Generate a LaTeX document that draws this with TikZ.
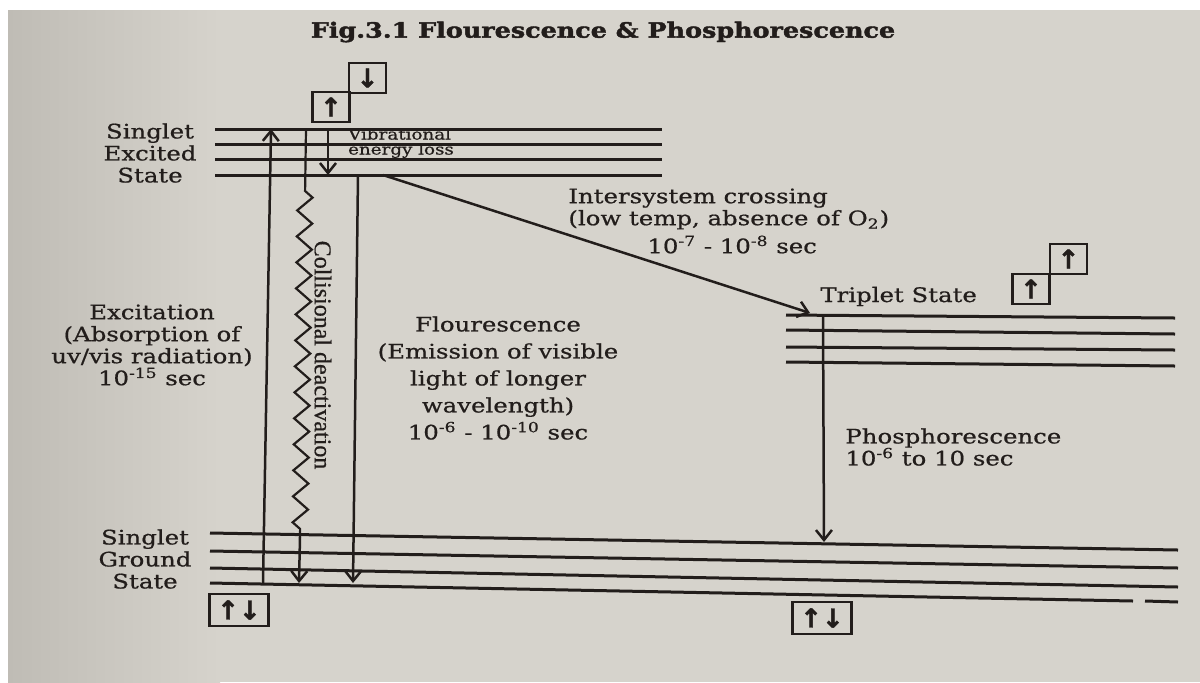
\documentclass[tikz,border=0pt]{standalone}
\usepackage{fontspec}
\setmainfont[FakeStretch=1.22, FakeBold=0.7]{DejaVu Serif}
\newfontfamily\spinfont[FakeBold=1.5]{DejaVu Sans}
\newfontfamily\narrowfont[FakeBold=0.6]{Liberation Serif}
\newfontfamily\titlefont[FakeStretch=1.21, FakeBold=2]{DejaVu Serif Bold}
\usetikzlibrary{arrows.meta,decorations.pathmorphing}
\definecolor{paper}{HTML}{D6D3CC}
\definecolor{shadow}{HTML}{BFBCB5}
\definecolor{ink}{HTML}{221D1B}

\begin{document}
\begin{tikzpicture}[
  x=0.5pt, y=-0.5pt,
  >={Straight Barb[length=5pt,width=8pt]},
  lvl/.style={draw=ink, line width=1.5pt},
  arrow/.style={->, draw=ink, line width=1.25pt},
  wavy/.style={draw=ink, line width=1.1pt, decorate, decoration={zigzag, segment length=13pt, amplitude=3.8pt, pre length=31pt}},
  lbl/.style={text=ink, align=center, inner sep=0pt, font=\fontsize{10}{11}\selectfont},
  spin/.style={draw=ink, line width=1.2pt, inner sep=0pt, minimum width=18.5pt, minimum height=15pt, text=ink, font=\spinfont\bfseries\fontsize{13}{13}\selectfont},
  pair/.style={spin, minimum width=29.5pt, minimum height=16pt},
]
\useasboundingbox (0,0) rectangle (1200,682);
\fill[white] (0,0) rectangle (1200,682);
\fill[paper] (8,10) rectangle (1200,682);
\shade[left color=shadow, right color=paper] (8,10) rectangle (220,682);

\node[lbl, font=\titlefont\fontsize{10.5}{12}\selectfont] (title) at (603,32) {Fig.3.1 Flourescence \& Phosphorescence};

% singlet excited levels
\draw[lvl] (215,129) -- (662,129);
\draw[lvl] (215,144) -- (662,144);
\draw[lvl] (215,159) -- (662,159);
\draw[lvl] (215,175) -- (662,175);

% triplet levels
\draw[lvl] (786,315) -- (1175,318);
\draw[lvl] (786,330) -- (1175,334);
\draw[lvl] (786,347) -- (1175,350);
\draw[lvl] (786,362) -- (1175,366);

% singlet ground levels
\draw[lvl] (210,533) -- (1178,550);
\draw[lvl] (210,551) -- (1178,568);
\draw[lvl] (210,568) -- (1178,587);
\draw[lvl] (210,583) -- (1133,601);
\draw[lvl] (1145,601) -- (1178,602);

\coordinate (exBot) at (263,583);
\coordinate (exTop) at (271,129);
\coordinate (cdTop) at (306,129);
\coordinate (cdKnee) at (300,537);
\coordinate (cdBot) at (299,583);
\coordinate (vbTop) at (328,129);
\coordinate (vbBot) at (328,175);
\coordinate (flTop) at (358,175);
\coordinate (flBot) at (353,583);
\coordinate (iscA) at (383,175);
\coordinate (iscB) at (810,313);
\coordinate (phTop) at (823,315);
\coordinate (phBot) at (824,542);

\draw[arrow] (exBot) -- (exTop);
\draw[wavy] (cdTop) -- (cdKnee);
\draw[arrow] (cdKnee) -- (cdBot);
\draw[arrow] (vbTop) -- (vbBot);
\draw[arrow] (flTop) -- (flBot);
\draw[arrow] (iscA) -- (iscB);
\draw[arrow] (phTop) -- (phBot);

\node[spin] (s1dn) at (367.5,78) {↓};
\node[spin] (s1up) at (331,107) {↑};
\node[spin] (t1a) at (1031,289) {↑};
\node[spin] (t1b) at (1068.5,259) {↑};
\node[pair] (s0a) at (239,610) {↑↓};
\node[pair] (s0b) at (822,618) {↑↓};

\node[lbl] (s1lbl) at (150,153) {Singlet\\Excited\\State};
\node[lbl] (s0lbl) at (145,559) {Singlet\\Ground\\State};
\node[lbl] (exlbl) at (152,345) {Excitation\\(Absorption of\\uv/vis radiation)\\10\textsuperscript{-15} sec};
\node[lbl, font=\fontsize{10}{13.5}\selectfont] (fllbl) at (498,378) {Flourescence\\(Emission of visible\\light of longer\\wavelength)\\10\textsuperscript{-6} - 10\textsuperscript{-10} sec};
\node[lbl, align=left, anchor=west] (isclbl) at (568,221) {Intersystem crossing\\(low temp, absence of O\textsubscript{2})\\[3pt]\hspace*{39.5pt}10\textsuperscript{-7} - 10\textsuperscript{-8} sec};
\node[lbl, anchor=base west] (tlbl) at (820,302) {Triplet State};
\node[lbl, align=left, anchor=west] (phlbl) at (845,447) {Phosphorescence\\10\textsuperscript{-6} to 10 sec};
\node[lbl, font=\fontsize{7.5}{7.5}\selectfont, align=left] (vblbl) at (401,143) {Vibrational\\energy loss};
\node[lbl, font=\narrowfont\fontsize{12}{12}\selectfont, rotate=-90] (cdlbl) at (323,355) {Collisional deactivation};

\end{tikzpicture}
\end{document}
